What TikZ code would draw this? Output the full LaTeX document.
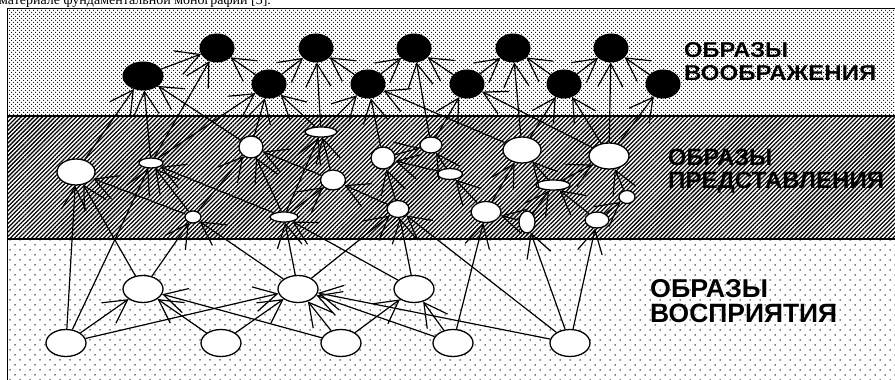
\documentclass[tikz,border=0pt]{standalone}
\usepackage{fontspec}
\usepackage{graphicx}
\setmainfont{Liberation Serif}
\newfontfamily\lblfont{Liberation Sans}
\usetikzlibrary{shapes.geometric,arrows.meta,patterns.meta}
\tikzset{
  bn/.style={ellipse, fill=black, draw=black, line width=1pt, inner sep=0pt, minimum width=34pt, minimum height=28pt},
  wn/.style={ellipse, fill=white, draw=black, line width=1.3pt, inner sep=0pt},
  ar/.style={line width=1.2pt, -{Straight Barb[length=23pt,width=25pt]}},
  lbl/.style={anchor=base west, inner sep=0pt, font=\lblfont\bfseries},
  frameline/.style={line width=1.3pt},
}
\begin{document}
\begin{tikzpicture}[x=1pt,y=-1pt]
\useasboundingbox (0,0) rectangle (895,380);
% bands
\fill[white] (7.5,8.5) rectangle (895,380);
\fill[pattern={Dots[distance=4pt,radius=0.7pt]}] (7.5,8.5) rectangle (895,116);
\fill[pattern={Dots[distance=4pt,radius=0.7pt,xshift=2pt,yshift=2pt]}] (7.5,8.5) rectangle (895,116);
\fill[pattern={Lines[angle=45,distance=3pt,line width=1.3pt]}] (7.5,116) rectangle (895,239);
\fill[pattern={Dots[distance=10pt,radius=0.75pt]}] (7.5,239) rectangle (895,380);
\fill[pattern={Dots[distance=10pt,radius=0.75pt,xshift=5pt,yshift=5pt]}] (7.5,239) rectangle (895,380);
\draw[frameline] (7.5,380) -- (7.5,8.5) -- (895,8.5);
\draw[frameline] (7.5,116) -- (895,116);
\draw[frameline] (7.5,239) -- (895,239);
% clipped caption line at the top
\node[anchor=base west, inner sep=0pt, font=\fontsize{14}{16}\selectfont] (cap) at (-1,4.5) {материале фундаментальной монографии [3].};
% labels
\node[lbl] (la1) at (684,57) {\resizebox{104pt}{15pt}{ОБРАЗЫ}};
\node[lbl] (la2) at (684,80) {\resizebox{192pt}{15pt}{ВООБРАЖЕНИЯ}};
\node[lbl] (lb1) at (668,165) {\resizebox{104pt}{16.5pt}{ОБРАЗЫ}};
\node[lbl] (lb2) at (668,188) {\resizebox{216pt}{16.5pt}{ПРЕДСТАВЛЕНИЯ}};
\node[lbl] (lc1) at (650,297) {\resizebox{118pt}{18pt}{ОБРАЗЫ}};
\node[lbl] (lc2) at (650,322) {\resizebox{187pt}{18.5pt}{ВОСПРИЯТИЯ}};
% top (imagination) nodes
\node[bn, minimum width=40pt] (A) at (143,76) {};
\node[bn] (B) at (217,48) {};
\node[bn] (C) at (269,84) {};
\node[bn] (D) at (316,48) {};
\node[bn] (E) at (368,84) {};
\node[bn] (F) at (414,48) {};
\node[bn] (G) at (467,84) {};
\node[bn] (H) at (513,48) {};
\node[bn] (I) at (564,84) {};
\node[bn] (J) at (611,48) {};
\node[bn] (K) at (663,84) {};
% middle (representation) nodes
\node[wn, minimum width=38pt, minimum height=26pt] (M1) at (76,172) {};
\node[wn, minimum width=24pt, minimum height=10pt] (M2) at (151,163) {};
\node[wn, minimum width=16pt, minimum height=12pt] (M3) at (193,217) {};
\node[wn, minimum width=24pt, minimum height=22pt] (M4) at (251,147) {};
\node[wn, minimum width=32pt, minimum height=10pt] (M5) at (321,132) {};
\node[wn, minimum width=25pt, minimum height=20pt] (M6) at (333,180) {};
\node[wn, minimum width=28pt, minimum height=10pt] (M7) at (284,217) {};
\node[wn, minimum width=24pt, minimum height=22pt] (M8) at (383,158) {};
\node[wn, minimum width=22pt, minimum height=17pt] (M9) at (398,209) {};
\node[wn, minimum width=22pt, minimum height=16pt] (M10) at (431,145) {};
\node[wn, minimum width=25pt, minimum height=11pt] (M11) at (450,174) {};
\node[wn, minimum width=38pt, minimum height=26pt] (M12) at (522,150) {};
\node[wn, minimum width=40pt, minimum height=26pt] (M13) at (609,156) {};
\node[wn, minimum width=34pt, minimum height=10pt] (M14) at (553,185) {};
\node[wn, minimum width=30pt, minimum height=21pt] (M15) at (486,212) {};
\node[wn, minimum width=16pt, minimum height=22pt] (M16) at (527,222) {};
\node[wn, minimum width=24pt, minimum height=16pt] (M17) at (597,220) {};
\node[wn, minimum width=16pt, minimum height=13pt] (M18) at (627,197) {};
% bottom (perception) nodes
\node[wn, minimum width=40pt, minimum height=27pt] (B1) at (143,289) {};
\node[wn, minimum width=40pt, minimum height=27pt] (B2) at (298,289) {};
\node[wn, minimum width=40pt, minimum height=27pt] (B3) at (414,289) {};
\node[wn, minimum width=40pt, minimum height=27pt] (B4) at (66,343) {};
\node[wn, minimum width=40pt, minimum height=27pt] (B5) at (221,343) {};
\node[wn, minimum width=40pt, minimum height=27pt] (B6) at (341,343) {};
\node[wn, minimum width=40pt, minimum height=27pt] (B7) at (453,343) {};
\node[wn, minimum width=40pt, minimum height=27pt] (B8) at (570,343) {};
% connectors
\foreach \s/\t in {
  M1/A, M2/A, M4/A,
  A/B, M2/B, C/B,
  M2/C, M4/C, M5/C,
  C/D, M5/D, E/D,
  M5/E, M8/E, M12/E,
  E/F, M10/F, G/F,
  M10/G, M13/G,
  G/H, M12/H, I/H,
  M12/I, M13/I,
  I/J, M13/J, K/J,
  M13/K,
  M3/M1, M3/M2, M7/M2, M3/M4, M7/M4, M6/M4, M7/M5, M6/M5, M7/M6, M9/M6,
  M9/M8, M11/M8, M8/M10, M11/M10, M15/M11, M15/M12, M14/M12, M14/M13,
  M18/M13, M17/M18, M17/M14, M16/M14, M16/M15,
  B4/M1, B1/M1, B4/M2, B1/M3, B2/M3, B2/M7, B3/M7, B2/M9, B3/M9, B8/M9,
  B7/M15, B8/M16, B8/M17,
  B4/B1, B5/B1, B6/B1, B4/B2, B5/B2, B6/B2, B7/B2, B8/B2, B6/B3, B7/B3}
  \draw[ar] (\s) -- (\t);
\end{tikzpicture}
\end{document}
